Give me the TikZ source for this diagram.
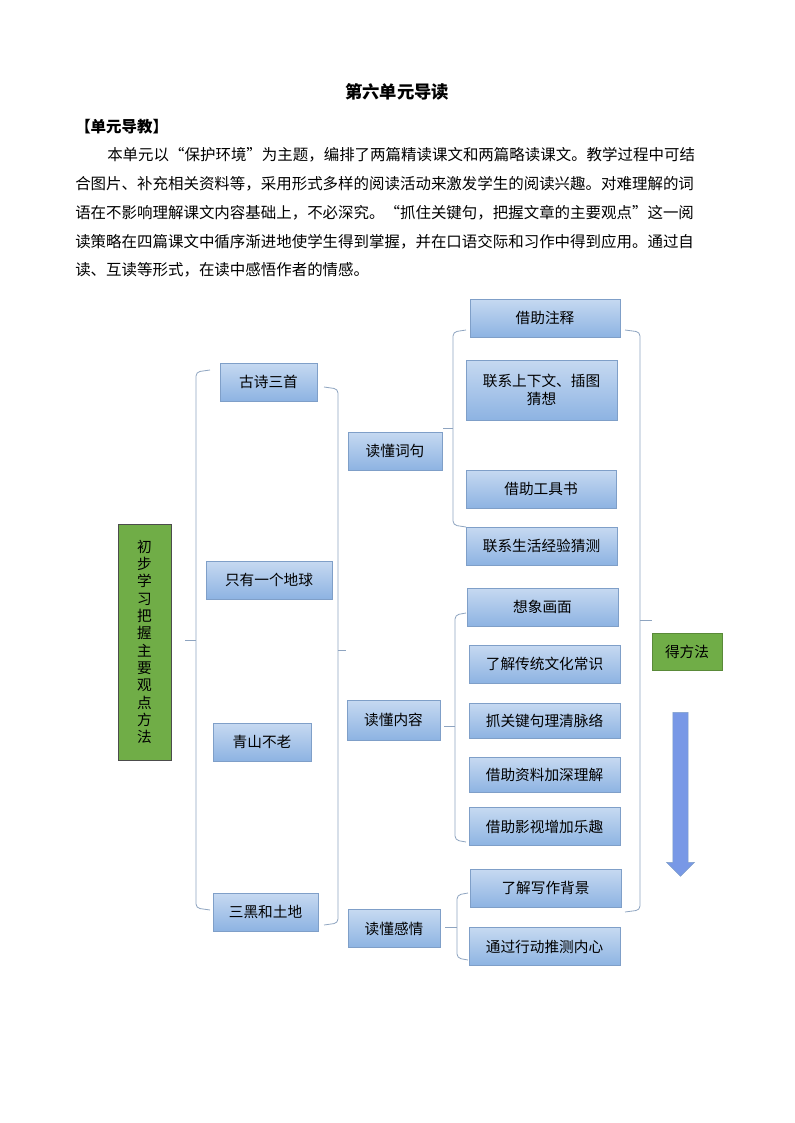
\documentclass[tikz,border=0pt]{standalone}
\usepackage{fontspec}
\setmainfont{Noto Sans CJK SC}
\usetikzlibrary{positioning,shapes.arrows}
\definecolor{boxtop}{HTML}{C6D9F1}
\definecolor{boxbot}{HTML}{8DB3E2}
\definecolor{boxline}{HTML}{7F9FC8}
\definecolor{leafgreen}{HTML}{70AD47}
\definecolor{brace}{HTML}{8EA4C0}
\tikzset{
  method/.style={draw=boxline, top color=boxtop, bottom color=boxbot, minimum height=28.5pt, font=\fontsize{11}{13}\selectfont, inner sep=2pt},
  green box/.style={draw=black!70, fill=leafgreen, font=\fontsize{11}{13}\selectfont},
  brace line/.style={draw=brace, line width=0.6pt, rounded corners=3pt},
  para/.style={anchor=west, inner sep=0pt, font=\fontsize{11.6}{14}\selectfont}
}
\begin{document}
\begin{tikzpicture}[x=0.75pt, y=-0.75pt]
\useasboundingbox (0,0) rectangle (794,1123);

% heading and text
\node[font=\bfseries\fontsize{13}{15}\selectfont] (title) at (397,92) {第六单元导读};
\node[para, font=\bfseries\fontsize{11.6}{14}\selectfont] (sub) at (75,127) {【单元导教】};
\node[para] (l1) at (107,155) {本单元以“保护环境”为主题，编排了两篇精读课文和两篇略读课文。教学过程中可结};
\node[para] (l2) at (75,184) {合图片、补充相关资料等，采用形式多样的阅读活动来激发学生的阅读兴趣。对难理解的词};
\node[para] (l3) at (75,213) {语在不影响理解课文内容基础上，不必深究。“抓住关键句，把握文章的主要观点”这一阅};
\node[para] (l4) at (75,242) {读策略在四篇课文中循序渐进地使学生得到掌握，并在口语交际和习作中得到应用。通过自};
\node[para] (l5) at (75,270) {读、互读等形式，在读中感悟作者的情感。};

% root
\node[green box, minimum width=39.75pt, minimum height=177pt, align=center] (root) at (144.5,642) {初\\步\\学\\习\\把\\握\\主\\要\\观\\点\\方\\法};

% lessons
\node[method, minimum width=72.75pt] (gushi) at (268.5,382) {古诗三首};
\node[method, minimum width=94.5pt] (diqiu) at (269,580) {只有一个地球};
\node[method, minimum width=73.5pt] (qingshan) at (262,742) {青山不老};
\node[method, minimum width=78.75pt] (sanhei) at (265.5,912) {三黑和土地};

% reading goals
\node[method, minimum width=70.5pt] (ciju) at (395,451) {读懂词句};
\node[method, minimum width=69.75pt, minimum height=30pt] (neirong) at (393.5,720) {读懂内容};
\node[method, minimum width=69pt] (ganqing) at (394,928.5) {读懂感情};

% methods
\node[method, minimum width=112.5pt] (zhushi) at (545,318) {借助注释};
\node[method, minimum width=113.25pt, minimum height=45pt, align=center] (chatu) at (541.5,390) {联系上下文、插图\\猜想};
\node[method, minimum width=112.5pt] (gongju) at (541,489) {借助工具书};
\node[method, minimum width=113.25pt] (shenghuo) at (541.5,546) {联系生活经验猜测};
\node[method, minimum width=113.25pt] (huamian) at (542.5,607) {想象画面};
\node[method, minimum width=113.25pt] (changshi) at (544.5,664) {了解传统文化常识};
\node[method, minimum width=113.25pt, minimum height=26pt] (mailuo) at (544.5,720.5) {抓关键句理清脉络};
\node[method, minimum width=113.25pt, minimum height=26pt] (ziliao) at (544.5,775) {借助资料加深理解};
\node[method, minimum width=113.25pt] (yingshi) at (544.5,826.5) {借助影视增加乐趣};
\node[method, minimum width=113.25pt] (beijing) at (545.5,888) {了解写作背景};
\node[method, minimum width=113.25pt] (neixin) at (544.5,946.5) {通过行动推测内心};

% result
\node[green box, draw=leafgreen!80!black, minimum width=52.5pt, minimum height=27.75pt] (fangfa) at (687,651.5) {得方法};
\node[single arrow, draw=boxline, fill=boxbot!85!blue, shape border rotate=270, minimum height=123pt, minimum width=21pt, single arrow head extend=3pt, single arrow tip angle=90] (down) at (680.5,790.5) {};

% brackets
\coordinate (b1) at (185,640);
\draw[brace line] (210,370) -- (196,372) -- (196,908) -- (210,910);
\draw[brace line] (196,640) -- (b1);
\coordinate (b2) at (346,650);
\draw[brace line] (324,387) -- (338,389) -- (338,923) -- (324,925);
\draw[brace line] (338,650) -- (b2);
\coordinate (b3) at (443,428);
\draw[brace line] (466,330) -- (453,332) -- (453,525) -- (466,527);
\draw[brace line] (453,428) -- (b3);
\coordinate (b4) at (444,726);
\draw[brace line] (466,613) -- (455,615) -- (455,840) -- (466,842);
\draw[brace line] (455,726) -- (b4);
\coordinate (b5) at (445,927);
\draw[brace line] (468,893) -- (457,895) -- (457,958) -- (468,960);
\draw[brace line] (457,927) -- (b5);
\coordinate (b6) at (652,620);
\draw[brace line] (625,330) -- (640,332) -- (640,910) -- (625,912);
\draw[brace line] (640,620) -- (b6);
\end{tikzpicture}
\end{document}
